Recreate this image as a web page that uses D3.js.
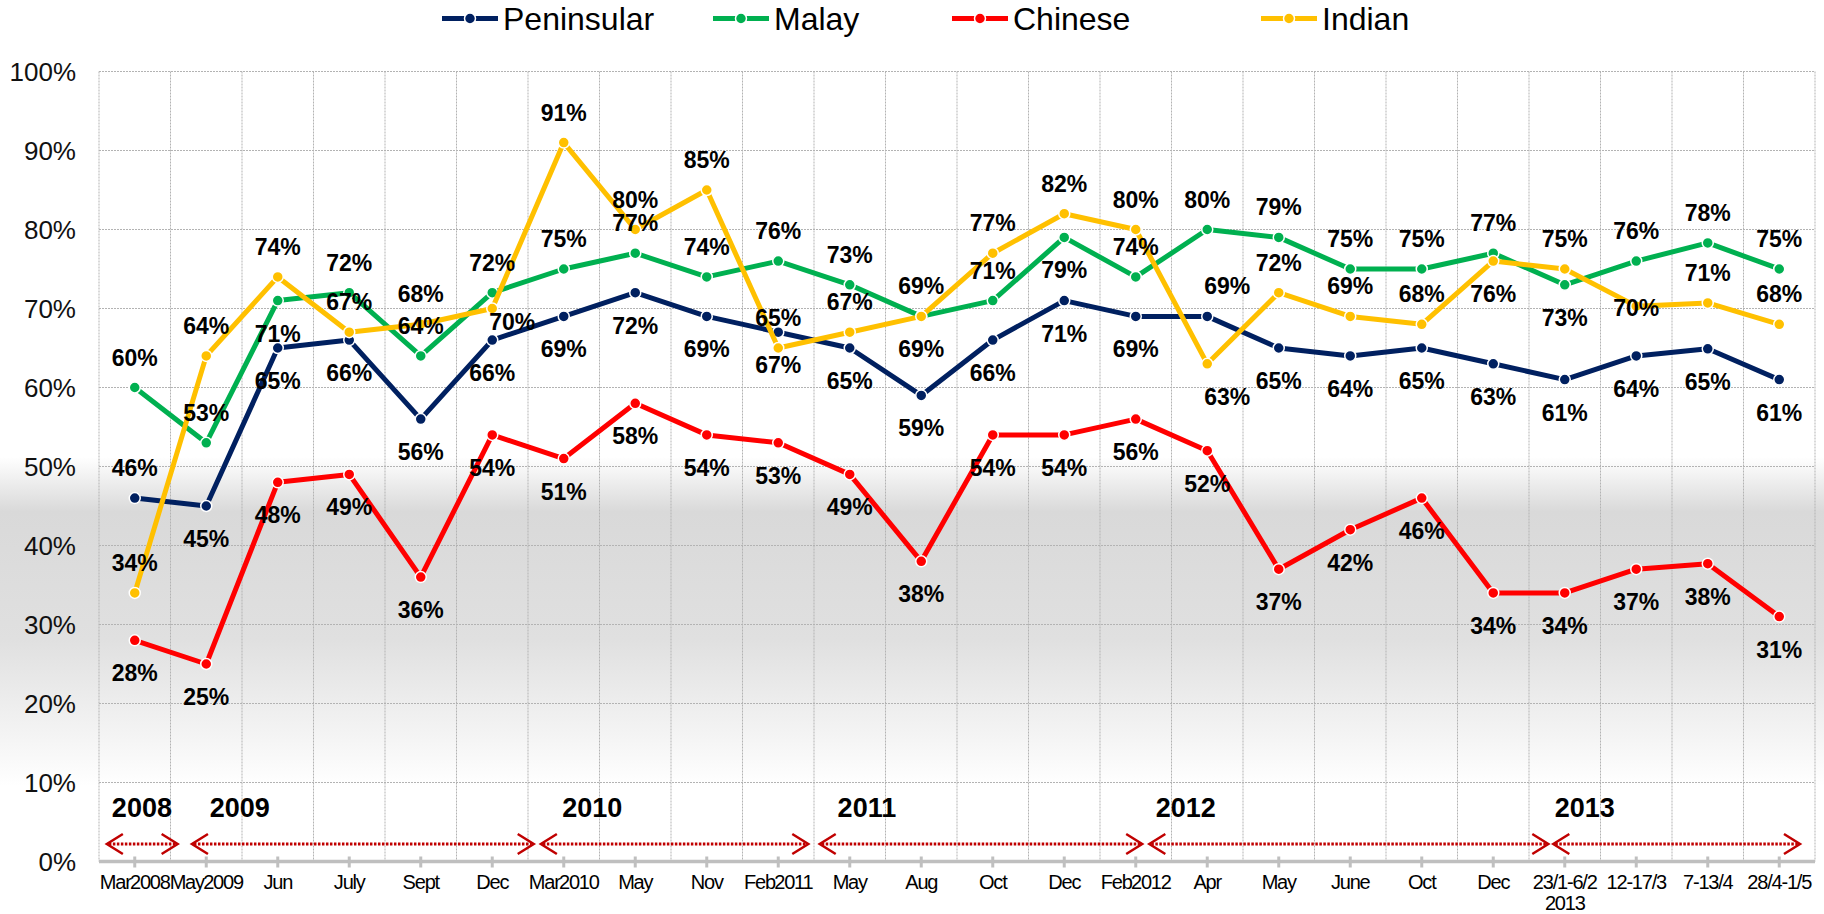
<!DOCTYPE html>
<html>
<head>
<meta charset="utf-8">
<script src="https://cdn.jsdelivr.net/npm/d3@7"></script>
<style>
  body { margin: 0; background: #fff; }
  svg text { font-family: "Liberation Sans", Arial, sans-serif; }
  .grid line { stroke: #b3b3b3; stroke-width: 1; stroke-dasharray: 2,1; }
  .dlabel { font-size: 23px; font-weight: bold; fill: #000; }
  .xlab { font-size: 20px; fill: #000; letter-spacing: -1.2px; word-spacing: -5px; }
  .ylab { font-size: 26px; fill: #111; }
  .year { font-size: 27px; font-weight: bold; fill: #000; }
  .legend text { font-size: 32px; fill: #000; }
</style>
</head>
<body>
<div id="chart"></div>
<script>
// categories (x axis)
var categories = ["Mar 2008", "May 2009", "Jun", "July", "Sept", "Dec", "Mar 2010", "May", "Nov",
  "Feb 2011", "May", "Aug", "Oct", "Dec", "Feb 2012", "Apr", "May", "June", "Oct", "Dec",
  "23/1-6/2|2013", "12-17/3", "7-13/4", "28/4-1/5"];

// series values (%)
var peninsular = [46, 45, 65, 66, 56, 66, 69, 72, 69, 67, 65, 59, 66, 71, 69, 69, 65, 64, 65, 63, 61, 64, 64.9, 61];
var malay      = [60, 53, 71, 72, 64, 72, 75, 77, 74, 76, 73, 69, 71, 79, 74, 80, 79, 75, 75, 77, 73, 76, 78.3, 75];
var chinese    = [28, 25, 48, 49, 36, 54, 51, 58, 54, 53, 49, 38, 54, 54, 56, 52, 37, 42, 46, 34, 34, 37, 37.7, 31];
var indian     = [34, 64, 74, 67, 68, 70, 91, 80, 85, 65, 67, 69, 77, 82, 80, 63, 72, 69, 68, 76, 75, 70.3, 70.7, 68];

// label placement: a above, b below, A above-right, B below-right, R right, c centre
var penPos   = "abbbbbbbbbbbbbbAbbbbbbbb".split("");
var malayPos = "aabaaaaaaaaaabaaaaaabaaa".split("");
var chiPos   = "bbbbbbbbbbbbbbbbbbbbbbbb".split("");
var indPos   = "aaaaaRaaaaabaaaBaaabacaa".split("");

var yTicks = [0, 10, 20, 30, 40, 50, 60, 70, 80, 90, 100];

// year bands: label at category index, arrow span in category index units
var years      = ["2008", "2009", "2010", "2011", "2012", "2013"];
var yearAt     = [0.1, 1.47, 6.4, 10.24, 14.7, 20.28];
var yearStart  = [-0.39, 0.8, 5.68, 9.58, 14.19, 19.84];
var yearEnd    = [0.6, 5.58, 9.42, 14.09, 19.77, 23.29];

var seriesNames  = ["Peninsular", "Malay", "Chinese", "Indian"];
var seriesColors = ["#002060", "#00b050", "#ff0000", "#ffc000"];
var legendX      = [442, 713, 952, 1261];

var W = 1824, H = 914;
var margin = {top: 71.5, right: 9, bottom: 52.5, left: 99},
    width = W - margin.left - margin.right,
    height = H - margin.top - margin.bottom;

var svg = d3.select("#chart").append("svg")
    .attr("width", W)
    .attr("height", H);

// background gradient
var grad = svg.append("defs").append("linearGradient")
    .attr("id", "bg")
    .attr("x1", 0).attr("y1", 0).attr("x2", 0).attr("y2", 1);
[[0, "#ffffff"], [0.5, "#ffffff"], [0.56, "#d9d9d9"], [0.7, "#e0e0e0"], [0.8, "#f3f3f3"], [0.86, "#ffffff"], [1, "#ffffff"]]
  .forEach(function (s) {
    grad.append("stop").attr("offset", s[0]).attr("stop-color", s[1]);
  });
svg.append("rect").attr("width", W).attr("height", H).attr("fill", "url(#bg)");

var x = d3.scalePoint().domain(d3.range(categories.length)).range([0, width]).padding(0.5),
    xi = d3.scaleLinear().domain([-0.5, categories.length - 0.5]).range([0, width]),
    y = d3.scaleLinear().domain([0, 100]).range([height, 0]);

var g = svg.append("g")
    .attr("transform", "translate(" + margin.left + "," + margin.top + ")");

// gridlines
var grid = g.append("g").attr("class", "grid");
grid.selectAll(".h").data(yTicks.slice(1)).enter().append("line")
    .attr("x1", 0).attr("x2", width)
    .attr("y1", function (d) { return y(d); })
    .attr("y2", function (d) { return y(d); });
grid.selectAll(".v").data(d3.range(categories.length + 1)).enter().append("line")
    .attr("x1", function (d) { return xi(d - 0.5); })
    .attr("x2", function (d) { return xi(d - 0.5); })
    .attr("y1", 0).attr("y2", height);

// y labels
g.selectAll(".ylab").data(yTicks).enter().append("text")
    .attr("class", "ylab")
    .attr("x", -23)
    .attr("y", function (d) { return y(d); })
    .attr("dy", "0.35em")
    .attr("text-anchor", "end")
    .text(function (d) { return d + "%"; });

// x axis line + ticks
g.append("line")
    .attr("x1", 0).attr("x2", width)
    .attr("y1", height).attr("y2", height)
    .attr("stroke", "#bfbfbf").attr("stroke-width", 3.5);
g.selectAll(".xtick").data(d3.range(categories.length)).enter().append("line")
    .attr("x1", function (d) { return x(d); })
    .attr("x2", function (d) { return x(d); })
    .attr("y1", height - 5).attr("y2", height + 6)
    .attr("stroke", "#bfbfbf").attr("stroke-width", 3);

var xl = g.selectAll(".xlab").data(categories).enter().append("text")
    .attr("class", "xlab")
    .attr("text-anchor", "middle")
    .attr("transform", function (d, i) { return "translate(" + x(i) + "," + (height + 27) + ")"; });
xl.each(function (d) {
  var parts = d.split("|"), t = d3.select(this);
  parts.forEach(function (p, k) {
    t.append("tspan").attr("x", 0).attr("dy", k ? 21 : 0).text(p);
  });
});

// year labels and arrows
g.selectAll(".year").data(years).enter().append("text")
    .attr("class", "year")
    .attr("text-anchor", "middle")
    .attr("x", function (d, i) { return xi(yearAt[i]); })
    .attr("y", height - 53.5)
    .attr("dy", "0.35em")
    .text(function (d) { return d; });

var arrowY = height - 17.5;
var arr = g.append("g").attr("fill", "none").attr("stroke", "#c00000");
years.forEach(function (yr, i) {
  var a = xi(yearStart[i]), b = xi(yearEnd[i]);
  arr.append("line")
      .attr("x1", a + 2).attr("x2", b - 2)
      .attr("y1", arrowY).attr("y2", arrowY)
      .attr("stroke-width", 3).attr("stroke-dasharray", "2.5,1.5");
  arr.append("path")
      .attr("d", "M" + (a + 16) + "," + (arrowY - 10) + "L" + a + "," + arrowY + "L" + (a + 16) + "," + (arrowY + 10))
      .attr("stroke-width", 2.5);
  arr.append("path")
      .attr("d", "M" + (b - 16) + "," + (arrowY - 10) + "L" + b + "," + arrowY + "L" + (b - 16) + "," + (arrowY + 10))
      .attr("stroke-width", 2.5);
});

// series
var allSeries = [peninsular, malay, chinese, indian];
var allPos = [penPos, malayPos, chiPos, indPos];

var line = d3.line()
    .x(function (d, i) { return x(i); })
    .y(function (d) { return y(d); });

allSeries.forEach(function (vals, s) {
  g.append("path")
      .datum(vals)
      .attr("fill", "none")
      .attr("stroke", seriesColors[s])
      .attr("stroke-width", 5)
      .attr("stroke-linejoin", "round")
      .attr("d", line);
  g.selectAll(".pt" + s).data(vals).enter().append("circle")
      .attr("cx", function (d, i) { return x(i); })
      .attr("cy", function (d) { return y(d); })
      .attr("r", 5.5)
      .attr("fill", seriesColors[s])
      .attr("stroke", "#fff")
      .attr("stroke-width", 1.5);
});

var fmt = function (v) { return Math.round(v) + "%"; };
allSeries.forEach(function (vals, s) {
  g.selectAll(".lab" + s).data(vals).enter().append("text")
      .attr("class", "dlabel")
      .attr("text-anchor", "middle")
      .attr("x", function (d, i) {
        var p = allPos[s][i];
        return x(i) + (p === "A" || p === "B" || p === "R" ? 20 : 0);
      })
      .attr("y", function (d, i) {
        var p = allPos[s][i];
        if (p === "a" || p === "A") return y(d) - 30;
        if (p === "c") return y(d) + 2;
        if (p === "R") return y(d) + 13;
        return y(d) + 33;
      })
      .attr("dy", "0.35em")
      .text(function (d) { return fmt(d); });
});

// legend
var legend = svg.append("g").attr("class", "legend");
seriesNames.forEach(function (name, i) {
  var lx = legendX[i], ly = 18.5;
  legend.append("line")
      .attr("x1", lx).attr("x2", lx + 56)
      .attr("y1", ly).attr("y2", ly)
      .attr("stroke", seriesColors[i]).attr("stroke-width", 5);
  legend.append("circle")
      .attr("cx", lx + 28).attr("cy", ly).attr("r", 5.5)
      .attr("fill", seriesColors[i]).attr("stroke", "#fff").attr("stroke-width", 1.5);
  legend.append("text")
      .attr("x", lx + 61).attr("y", ly)
      .attr("dy", "0.35em")
      .text(name);
});
</script>
</body>
</html>
